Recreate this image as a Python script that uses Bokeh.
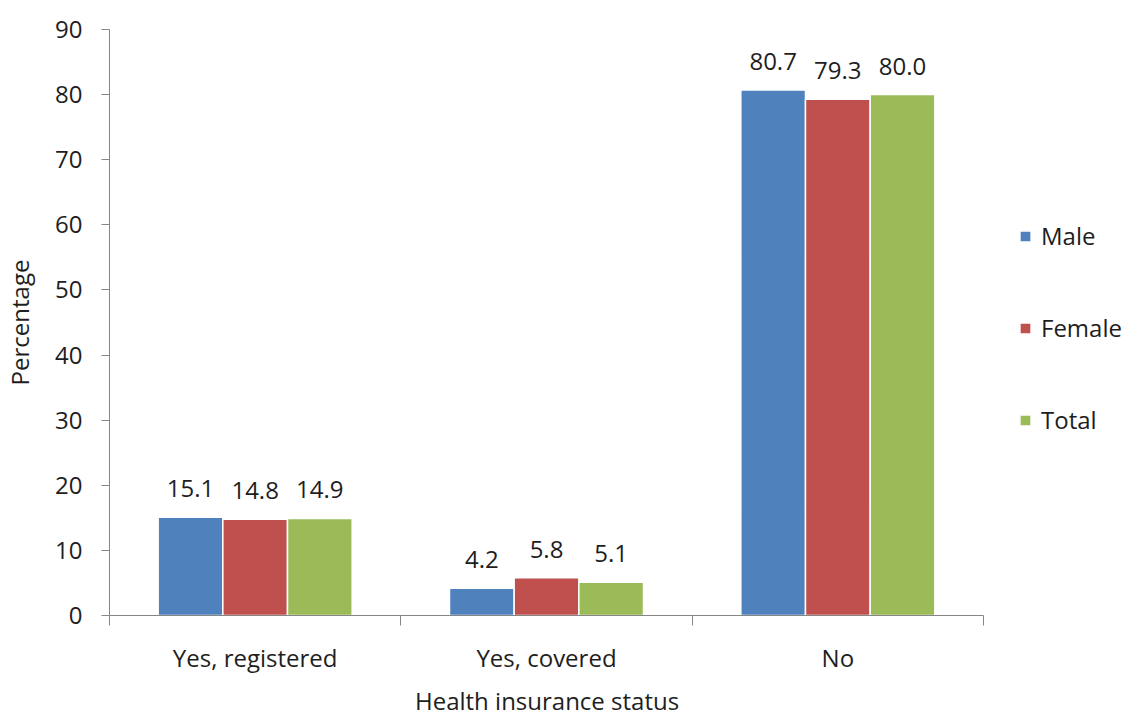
from bokeh.plotting import figure
from bokeh.models import (ColumnDataSource, Range1d, LinearAxis, Title,
                          FixedTicker, LabelSet, Legend, LegendItem)
from bokeh.core.properties import value
from bokeh.transform import dodge
from bokeh.embed import file_html
from bokeh.resources import INLINE

# Health insurance status by sex (percent)
categories = ["Yes, registered", "Yes, covered", "No"]
male = [15.1, 4.2, 80.7]
female = [14.8, 5.8, 79.3]
total = [14.9, 5.1, 80.0]
series_names = ["Male", "Female", "Total"]
series_colors = ["#4F81BD", "#C0504D", "#9BBB59"]
y_ticks = [0, 10, 20, 30, 40, 50, 60, 70, 80, 90]

FONT = "Open Sans"
FSIZE = "24px"
TEXT = "#1e1e1e"
AXIS = "#868686"

W, H = 1123, 722
LEFT = 109          # plot area left edge
AXIS_SPAN = 874     # width of the category axis in px
n = len(categories)

# each category occupies one unit on x; its centre sits at i + 0.5
centers = [i + 0.5 for i in range(n)]
edges = list(range(n + 1))
# the frame runs to the right edge so the legend has room beside the bars
x_end = n * (W - LEFT) / AXIS_SPAN

source = ColumnDataSource(dict(
    xc=centers, Male=male, Female=female, Total=total,
    Male_lbl=[f"{v:.1f}" for v in male],
    Female_lbl=[f"{v:.1f}" for v in female],
    Total_lbl=[f"{v:.1f}" for v in total],
))

p = figure(width=W, height=H,
           x_range=Range1d(0, x_end),
           y_range=Range1d(0, 90),
           x_axis_location=None, y_axis_location="left",
           output_backend="svg", toolbar_location=None,
           min_border_left=LEFT, min_border_right=0,
           min_border_top=29, min_border_bottom=107)
p.outline_line_color = None
p.grid.visible = False
p.background_fill_color = "white"
p.border_fill_color = "white"

bar_w = 0.222
offsets = [-bar_w, 0.0, bar_w]
renderers = []
for name, color, off in zip(series_names, series_colors, offsets):
    r = p.vbar(x=dodge("xc", off), top=name, width=bar_w,
               source=source, fill_color=color, line_color="white", line_width=1.5)
    renderers.append(r)
    labels = LabelSet(x=dodge("xc", off), y=name, text=name + "_lbl",
                      source=source, text_align="center", text_baseline="alphabetic",
                      y_offset=20, text_font=value(FONT), text_font_size=FSIZE,
                      text_color=TEXT)
    p.add_layout(labels)

# Y axis
yax = p.yaxis[0]
yax.ticker = FixedTicker(ticks=y_ticks)
yax.axis_line_color = AXIS
yax.major_tick_line_color = AXIS
yax.major_tick_out = 8
yax.major_tick_in = 0
yax.minor_tick_line_color = None
yax.major_label_text_font = FONT
yax.major_label_text_font_size = FSIZE
yax.major_label_text_color = TEXT
yax.major_label_standoff = 19
yax.axis_label = "Percentage"
yax.axis_label_text_font = FONT
yax.axis_label_text_font_size = FSIZE
yax.axis_label_text_font_style = "normal"
yax.axis_label_text_color = TEXT
yax.axis_label_standoff = 16

# X axis line with ticks at category boundaries
edge_axis = LinearAxis(ticker=FixedTicker(ticks=edges), bounds=(0, n),
                       major_label_overrides={e: "" for e in edges},
                       axis_line_color=AXIS, major_tick_line_color=AXIS,
                       major_tick_out=10, major_tick_in=0,
                       minor_tick_line_color=None, major_label_standoff=0)
p.add_layout(edge_axis, "below")

# Category names under each group
cat_axis = LinearAxis(ticker=FixedTicker(ticks=centers), bounds=(0, n),
                      major_label_overrides={c: lab for c, lab in zip(centers, categories)},
                      axis_line_color=None, major_tick_line_color=None,
                      minor_tick_line_color=None,
                      major_label_text_font=FONT, major_label_text_font_size=FSIZE,
                      major_label_text_color=TEXT, major_label_standoff=9,
                      major_label_text_line_height=1.0)
p.add_layout(cat_axis, "below")

# X axis title, centred under the category axis (not under the whole frame)
x_title_text = "Health insurance status"
x_title_width = 263
p.add_layout(Title(text=x_title_text, align="left",
                   offset=AXIS_SPAN / 2 - x_title_width / 2,
                   text_font=FONT, text_font_size=FSIZE, text_font_style="normal",
                   text_color=TEXT, text_line_height=1.0, standoff=11), "below")

legend = Legend(items=[LegendItem(label=s, renderers=[r]) for s, r in zip(series_names, renderers)],
                location=(909, 179), border_line_color=None, background_fill_alpha=0,
                label_text_font=FONT, label_text_font_size=FSIZE, label_text_color=TEXT,
                glyph_width=14, glyph_height=14, spacing=59, label_standoff=9,
                padding=0, margin=0)
p.add_layout(legend, "center")

open("out.html", "w").write(file_html(p, INLINE))
